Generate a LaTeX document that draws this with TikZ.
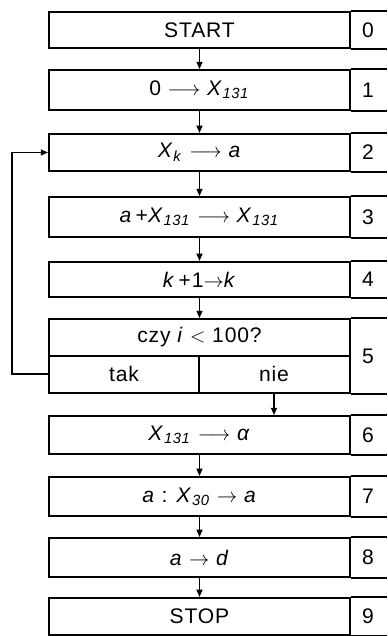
\documentclass[tikz,border=0pt]{standalone}
\usepackage{fontspec}
\setmainfont{Liberation Sans}[LetterSpace=4]
\usetikzlibrary{arrows.meta}
\newcommand{\vr}[1]{\textit{#1}}
\newcommand{\ix}[1]{\textsubscript{\textit{#1}}}

\begin{document}
\begin{tikzpicture}[x=0.025cm, y=-0.025cm,
    font=\fontsize{15}{17}\selectfont,
    stepbox/.style={draw, line width=1.4pt, inner sep=0pt, minimum width=7.525cm},
    flow/.style={line width=0.9pt, -{Triangle[length=1.8mm, width=1.5mm]}},
    numcell/.style={inner sep=0pt}]

		\useasboundingbox (0,0) rectangle (387,636);
		\coordinate (edge) at (387,0);

		% --- Anweisungen ---
		\node[stepbox, minimum height=0.90cm] (b0) at (199.5, 30) {START};
		\node[stepbox, minimum height=1.00cm] (b1) at (199.5, 90) {0 $\longrightarrow$ \vr{X}\ix{131}};
		\node[stepbox, minimum height=0.93cm] (b2) at (199.5, 152.5) {\vr{X}\ix{k} $\longrightarrow$ \vr{a}};
		\node[stepbox, minimum height=1.00cm] (b3) at (199.5, 217) {\vr{a}\,+\vr{X}\ix{131} $\longrightarrow$ \vr{X}\ix{131}};
		\node[stepbox, minimum height=0.88cm] (b4) at (199.5, 279.5) {\vr{k}\,+1$\rightarrow$\vr{k}};
		\node[stepbox, minimum height=1.85cm] (b5) at (199.5, 356) {};
		\node[stepbox, minimum height=0.95cm] (b6) at (199.5, 435) {\vr{X}\ix{131} $\longrightarrow$ \vr{α}};
		\node[stepbox, minimum height=0.98cm] (b7) at (199.5, 496.5) {\vr{a} : \vr{X}\ix{30} $\rightarrow$ \vr{a}};
		\node[stepbox, minimum height=0.98cm] (b8) at (199.5, 557.5) {\vr{a} $\rightarrow$ \vr{d}};
		\node[stepbox, minimum height=0.93cm] (b9) at (199.5, 616.5) {STOP};

		% --- Verzweigung in 5 ---
		\draw[line width=1.4pt] (b5.west) -- (b5.east);
		\draw[line width=1.4pt] (199, 356) -- (b5.south -| 199,0);
		\node (q5) at (199.5, 337) {czy \vr{i} $<$ 100?};
		\node (tak) at (124, 374) {tak};
		\node (nie) at (274, 374) {nie};

		% --- Nummern ---
		\foreach \i/\y in {0/30, 1/90, 2/152.5, 3/217, 4/279.5, 5/356, 6/435, 7/496.5, 8/557.5, 9/616.5} {
			\draw[line width=1.4pt] (b\i.north east) -- (b\i.north east -| edge);
			\draw[line width=1.4pt] (b\i.south east) -- (b\i.south east -| edge);
			\node[numcell] (n\i) at (368, \y) {\i};
		}

		% --- Verbindungen ---
		\draw[flow] (b0) -- (b1);
		\draw[flow] (b1) -- (b2);
		\draw[flow] (b2) -- (b3);
		\draw[flow] (b3) -- (b4);
		\draw[flow] (b4) -- (b5);
		\draw[flow] (nie |- b5.south) -- (nie |- b6.north);
		\draw[flow] (b6) -- (b7);
		\draw[flow] (b7) -- (b8);
		\draw[flow] (b8) -- (b9);
		\draw[flow] (tak -| b5.west) -- ++(-36,0) |- (b2.west);

	\end{tikzpicture}
\end{document}
